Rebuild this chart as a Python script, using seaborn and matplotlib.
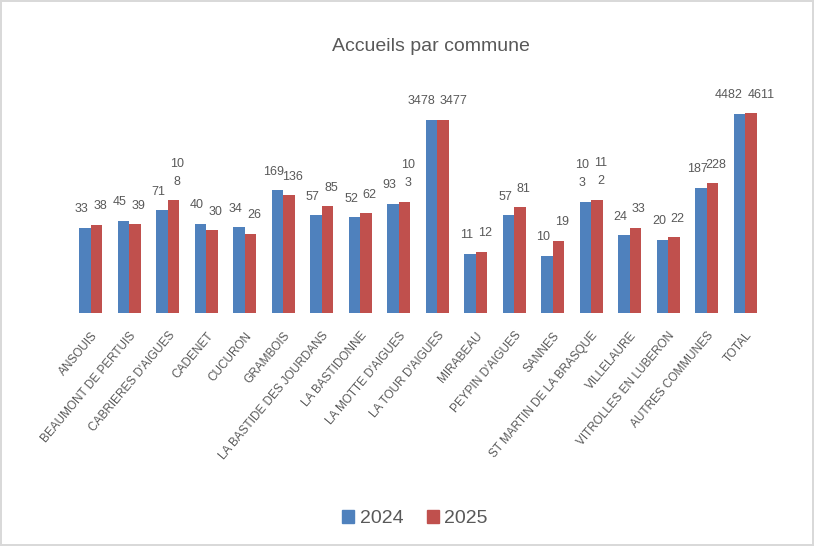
import matplotlib
matplotlib.use("Agg")
import matplotlib.pyplot as plt
import seaborn as sns
import pandas as pd

communes = ["ANSOUIS", "BEAUMONT DE PERTUIS", "CABRIERES D'AIGUES", "CADENET", "CUCURON",
            "GRAMBOIS", "LA BASTIDE DES JOURDANS", "LA BASTIDONNE", "LA MOTTE D'AIGUES",
            "LA TOUR D'AIGUES", "MIRABEAU", "PEYPIN D'AIGUES", "SANNES",
            "ST MARTIN DE LA BRASQUE", "VILLELAURE", "VITROLLES EN LUBERON",
            "AUTRES COMMUNES", "TOTAL"]
v2024 = [33, 45, 71, 40, 34, 169, 57, 52, 93, 3478, 11, 57, 10, 103, 24, 20, 187, 4482]
v2025 = [38, 39, 108, 30, 26, 136, 85, 62, 103, 3477, 12, 81, 19, 112, 33, 22, 228, 4611]
years = ["2024", "2025"]
colors = ["#4F81BD", "#C0504D"]

df = pd.DataFrame({
    "commune": communes * 2,
    "valeur": v2024 + v2025,
    "annee": [years[0]] * len(communes) + [years[1]] * len(communes),
})

sns.set_style("white")
plt.rcParams["font.family"] = ["Liberation Sans Narrow", "Liberation Sans", "DejaVu Sans"]

fig = plt.figure(figsize=(8.14, 5.46), dpi=100)
fig.patch.set_edgecolor("#d9d9d9")
fig.patch.set_linewidth(1.5)
ax = fig.add_axes([0.088, 0.4267, 0.851, 0.4634])

sns.barplot(data=df, x="commune", y="valeur", hue="annee", hue_order=years,
            palette=colors, width=0.6, ax=ax, saturation=1, legend=True,
            edgecolor="none")
ax.set_yscale("log")
ax.set_ylim(0.85, 45500)
ax.set_xlim(-0.5, len(communes) - 0.5)

def fmt(v):
    s = str(v)
    if v in (108, 103, 112):
        return s[:2] + "\n" + s[2:]
    return s

for cont, vals, sign in zip(ax.containers, [v2024, v2025], [-1, 1]):
    anns = ax.bar_label(cont, labels=[fmt(v) for v in vals], padding=9, fontsize=9,
                        color="#595959", linespacing=1.7)
    for a, v in zip(anns, vals):
        dx = 7.5 if v >= 1000 else 2.5
        a.xyann = (sign * dx, a.xyann[1])

ax.set_xlabel("")
ax.set_ylabel("")
ax.set_yticks([])
ax.minorticks_off()
ax.tick_params(axis="y", which="both", left=False, labelleft=False)
ax.tick_params(axis="x", length=0, pad=12)
for lab in ax.get_xticklabels():
    lab.set_rotation(50)
    lab.set_ha("right")
    lab.set_rotation_mode("anchor")
    lab.set_fontsize(8.5)
    lab.set_color("#595959")
for s in ax.spines.values():
    s.set_visible(False)

ax.legend_.remove()
handles = [plt.Rectangle((0, 0), 1, 1, color=c) for c in colors]
fig.legend(handles, years, loc="center", bbox_to_anchor=(0.51, 0.05), ncol=2,
           frameon=False, fontsize=14, handlelength=0.6, handleheight=0.6,
           handletextpad=0.3, columnspacing=1.2, labelcolor="#595959")

fig.text(0.53, 0.915, "Accueils par commune", ha="center", va="center",
         fontsize=14, color="#595959")

fig.savefig("out.png", dpi=100)
